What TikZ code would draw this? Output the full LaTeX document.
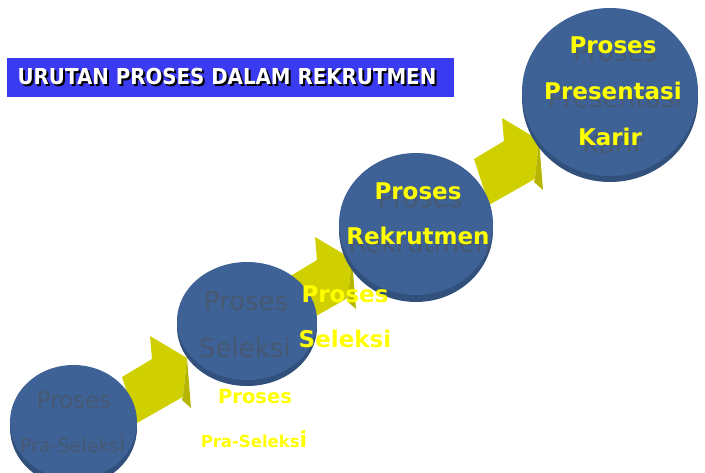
\documentclass[tikz,border=0pt]{standalone}
\usepackage{fontspec}
\setmainfont{DejaVu Sans}
\definecolor{disc}{RGB}{62,98,150}
\definecolor{discrim}{RGB}{50,80,124}
\definecolor{arrowfront}{RGB}{208,208,0}
\definecolor{arrowside}{RGB}{182,182,0}
\definecolor{titleblue}{RGB}{58,58,240}
\definecolor{ghost}{RGB}{80,80,80}
\definecolor{yel}{RGB}{255,255,0}
\tikzset{
  yarrow/.pic={
    \fill[arrowfront] (122,377) -- (152,359) -- (150,336) -- (187,358) -- (183,396) -- (181,398) -- (137,423) -- cycle;
    \fill[arrowside] (187,358) -- (191,408) -- (182,400) -- (183,396) -- cycle;
  },
  txt/.style={inner sep=0pt, anchor=base},
  ybig/.style={txt, text=yel, font=\fontsize{23}{23}\selectfont\bfseries},
  ghostbig/.style={txt, text=ghost, text opacity=0.5, font=\fontsize{26}{26}\selectfont},
}
\begin{document}
\begin{tikzpicture}[x=1pt,y=-1pt]
\useasboundingbox (0,0) rectangle (705,472);
% arrows
\pic (a1) at (0,0) {yarrow};
\pic (a2) at (165,-99) {yarrow};
\pic (a3) at (352,-218) {yarrow};
% discs
\fill[discrim] (73.5,428) ellipse [x radius=63.5, y radius=58];
\fill[disc] (73.5,422) ellipse [x radius=63.5, y radius=57];
\fill[discrim] (247,327) ellipse [x radius=70, y radius=59];
\fill[disc] (247,321) ellipse [x radius=70, y radius=59];
\fill[discrim] (416,230) ellipse [x radius=77, y radius=72];
\fill[disc] (416,224) ellipse [x radius=77, y radius=71];
\fill[discrim] (610,98) ellipse [x radius=88, y radius=84];
\fill[disc] (610,92) ellipse [x radius=88, y radius=84];
% title
\fill[titleblue] (7,58) rectangle (454,97);
\node[txt, text=black, font=\fontsize{22}{22}\selectfont\bfseries] (tshadow) at (229,86) {\scalebox{0.9}[1]{URUTAN PROSES DALAM REKRUTMEN}};
\node[txt, text=white, font=\fontsize{22}{22}\selectfont\bfseries] (title) at (227,84) {\scalebox{0.9}[1]{URUTAN PROSES DALAM REKRUTMEN}};
% disc 4
\node[ghostbig] (g4a) at (615,61) {Proses};
\node[ghostbig] (g4b) at (615,107) {Presentasi};
\node[ghostbig] (g4c) at (613,153) {Karir};
\node[ybig] (y4a) at (613,53) {Proses};
\node[ybig] (y4b) at (613,99) {Presentasi};
\node[ybig] (y4c) at (610,145) {Karir};
% disc 3
\node[ghostbig] (g3a) at (420,207) {Proses};
\node[ghostbig] (g3b) at (420,252) {Rekrutmen};
\node[ybig] (y3a) at (418,199) {Proses};
\node[ybig] (y3b) at (418,244) {Rekrutmen};
% disc 2
\node[ghostbig] (g2a) at (246,310) {Proses};
\node[ghostbig] (g2b) at (245,357) {Seleksi};
\node[ybig] (y2a) at (345,302) {Proses};
\node[ybig] (y2b) at (345,347) {Seleksi};
% disc 1
\node[txt, text=ghost, text opacity=0.5, font=\fontsize{23}{23}\selectfont] (g1a) at (74,408) {Proses};
\node[txt, text=ghost, text opacity=0.5, font=\fontsize{19}{19}\selectfont] (g1b) at (73,452) {Pra-Seleks{\fontsize{24}{24}\selectfont i}};
\node[txt, text=yel, font=\fontsize{19.5}{19.5}\selectfont\bfseries] (y1a) at (255,403) {Proses};
\node[txt, text=yel, font=\fontsize{16.5}{16.5}\selectfont\bfseries] (y1b) at (254,447) {Pra-Seleks{\fontsize{22}{22}\selectfont i}};
\end{tikzpicture}
\end{document}
